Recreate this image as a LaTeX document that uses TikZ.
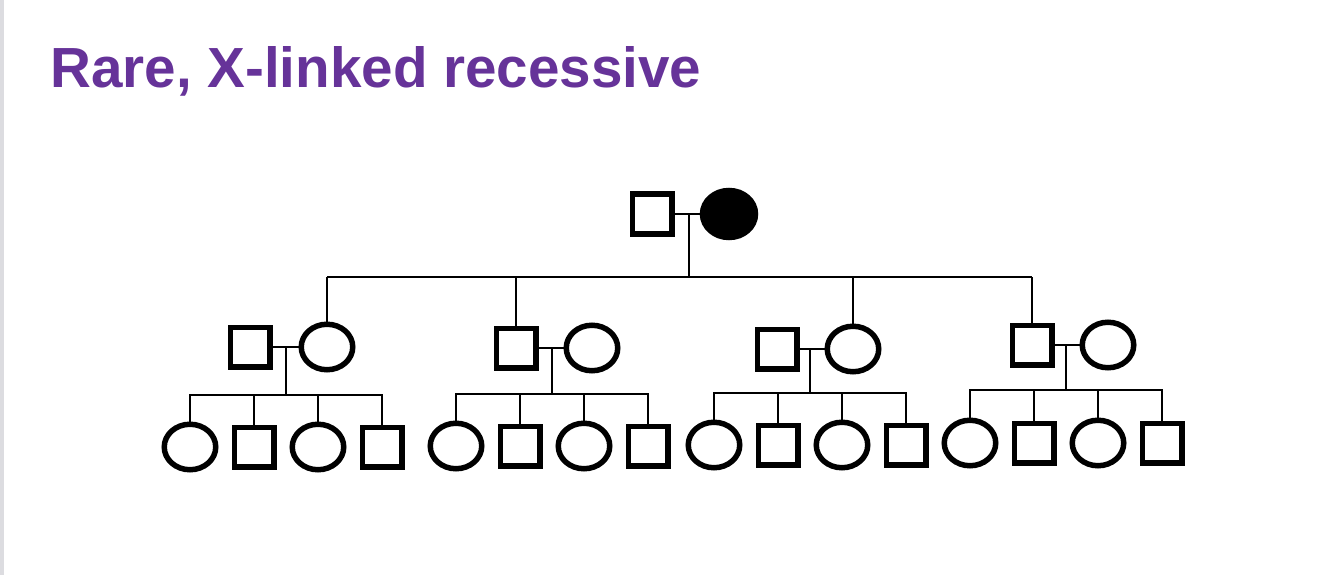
\documentclass[tikz,border=0pt]{standalone}
\usepackage{fontspec}
\setmainfont{Liberation Sans}
\usepackage{tikz}
\usetikzlibrary{positioning,calc,shapes.geometric}
\definecolor{TPurple}{HTML}{663399}
\definecolor{EdgeGray}{HTML}{DCDCE0}

\begin{document}
\begin{tikzpicture}[
  x=1pt,y=-1pt,
  male/.style={draw,line width=5.5pt,minimum size=39.5pt,inner sep=0pt},
  female/.style={draw,ellipse,line width=5.5pt,minimum width=51.5pt,
    minimum height=45.5pt,inner sep=0pt},
  link/.style={line width=1.5pt}
]
  \useasboundingbox (0,0) rectangle (1334,575);
  \fill[EdgeGray] (0,0) rectangle (4,575);
  \node[anchor=base west,inner sep=0pt,text=TPurple,
    font=\bfseries\fontsize{56.6}{60}\selectfont] (title) at (50,88)
    {Rare, X-linked recessive};
  % generation I
  \node[male] (gf) at (652,214) {};
  \node[female,fill=black,minimum width=53pt,minimum height=47pt] (gm) at (729,214) {};
  \draw[link] (gf) -- (gm);
  \coordinate (gd) at (689,214);
  \coordinate (gb) at (689,277);
  \draw[link] (gd) -- (gb);
  % generation II and III
  \foreach \f/\sx/\cx/\y/\d/\by/\ky/\kin in {
      1/250/327/347/286/395/447/ci, 2/516/592/348/552/394/446/sq,
      3/777/853/349/810/393/445/ci, 4/1032/1108/345/1066/390/443/sq}{
    \node[male] (sq\f) at (\sx,\y) {};
    \node[female] (ci\f) at (\cx,\y) {};
    \draw[link] (sq\f) -- (ci\f);
    \draw[link] (\kin\f.north |- gb) -- (\kin\f.north);
    \coordinate (m\f) at (\d,\y);
    \coordinate (b\f) at (\d,\by);
    \draw[link] (m\f) -- (b\f);
    \node[female] (k\f a) at ({\d-96},\ky) {};
    \node[male] (k\f b) at ({\d-32},\ky) {};
    \node[female] (k\f c) at ({\d+32},\ky) {};
    \node[male] (k\f d) at ({\d+96},\ky) {};
    \draw[link] (k\f a.north) |- (b\f) -| (k\f d.north);
    \draw[link] (k\f b.north) -- (k\f b.north |- b\f);
    \draw[link] (k\f c.north) -- (k\f c.north |- b\f);
  }
  \draw[link] (ci1.north |- gb) -- (sq4.north |- gb);
\end{tikzpicture}
\end{document}
